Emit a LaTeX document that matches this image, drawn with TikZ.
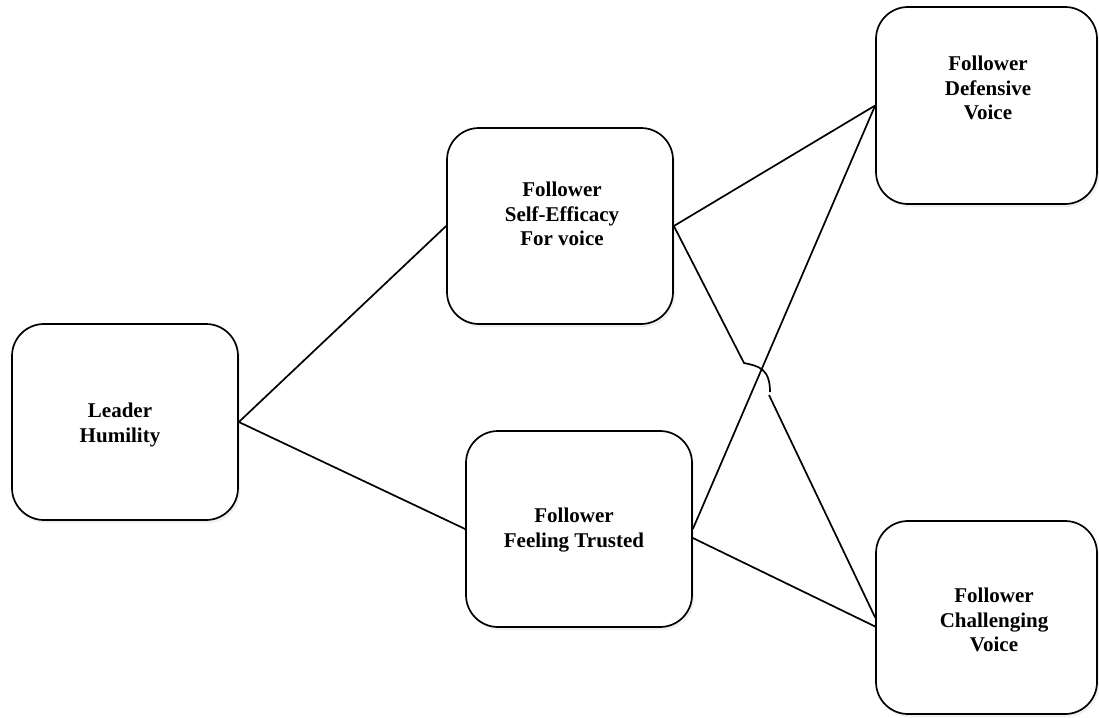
\documentclass[tikz,border=0pt]{standalone}
\usepackage{fontspec}
\setmainfont{Liberation Serif}
\usetikzlibrary{shadows}

\begin{document}
\begin{tikzpicture}
      [ x=1pt, y=-1pt
        , every node/.style={font=\fontsize{21}{24.5}\selectfont\bfseries, align=center}
        , box/.style={draw, line width=1.7pt, rounded corners=32pt, fill=white,
            minimum width=226pt, minimum height=196pt, inner sep=0pt,
            drop shadow={shadow xshift=2pt, shadow yshift=-3pt, opacity=0.12}}
        , link/.style={line width=1.7pt}
      ]
      \useasboundingbox (0,0) rectangle (1099,717);

      % boxes
      \node (lh) [box] at (125,422) {};
      \node (se) [box] at (560,226) {};
      \node (ft) [box] at (579,529) {};
      \node (dv) [box, minimum width=221pt, minimum height=197pt] at (986.5,105.5) {};
      \node (cv) [box, minimum width=221pt, minimum height=193pt] at (986.5,617.5) {};

      % texts
      \node (lhtext) at (120,425) {Leader\\Humility};
      \node (setext) at (562,214) {Follower\\Self-Efficacy\\For voice};
      \node (fttext) at (574,530) {Follower\\Feeling Trusted};
      \node (dvtext) at (988,88) {Follower\\Defensive\\Voice};
      \node (cvtext) at (994,620) {Follower\\Challenging\\Voice};

      \coordinate (hopA) at (744,363);
      \coordinate (hopB) at (770,392);
      \coordinate (hopC) at (769,395);

      \draw[link] (lh.east) -- (se.west);
      \draw[link] (lh.east) -- (ft.west);
      \draw[link] (se.east) -- (dv.west);
      \draw[link] (ft.east) -- (dv.west);
      \draw[link] ([yshift=-9pt]ft.east) -- ([yshift=-9pt]cv.west);
      \draw[link] (se.east) -- (hopA) .. controls (758,366) and (770,368) .. (hopB);
      \draw[link] (hopC) -- (cv.west);

    \end{tikzpicture}
\end{document}
